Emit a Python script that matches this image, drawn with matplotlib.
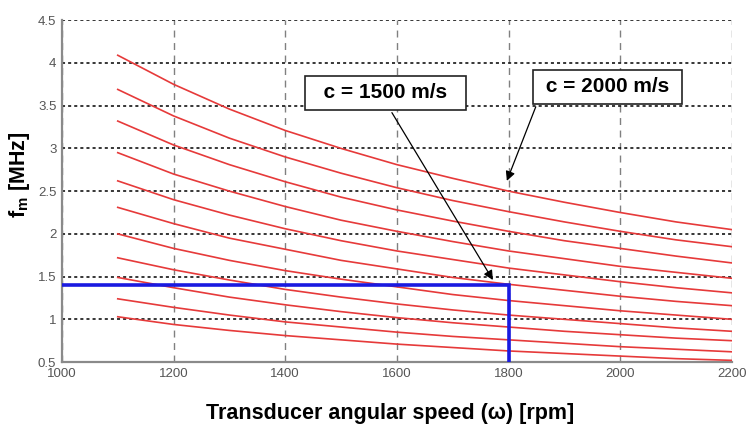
import matplotlib
matplotlib.use('Agg')
import matplotlib.pyplot as plt

plt.rcParams['mathtext.fontset'] = 'custom'
plt.rcParams['mathtext.bf'] = 'Liberation Sans:bold'
plt.rcParams['mathtext.rm'] = 'Liberation Sans'

# angular speed samples [rpm]
speed = [1100, 1200, 1300, 1400, 1500, 1600, 1700, 1800, 1900, 2000, 2100, 2200]

# fm [MHz] for each curve, top (c = 2000 m/s) to bottom
fm_1 = [4.09, 3.75, 3.46, 3.21, 3.00, 2.81, 2.65, 2.50, 2.37, 2.25, 2.14, 2.05]
fm_2 = [3.69, 3.38, 3.12, 2.90, 2.71, 2.54, 2.39, 2.26, 2.14, 2.03, 1.93, 1.85]
fm_3 = [3.32, 3.04, 2.81, 2.61, 2.43, 2.28, 2.15, 2.03, 1.92, 1.83, 1.74, 1.66]
fm_4 = [2.95, 2.70, 2.50, 2.32, 2.16, 2.03, 1.91, 1.80, 1.71, 1.62, 1.55, 1.48]
fm_5 = [2.62, 2.40, 2.22, 2.06, 1.92, 1.80, 1.70, 1.60, 1.52, 1.44, 1.37, 1.31]
fm_6 = [2.31, 2.12, 1.95, 1.82, 1.69, 1.59, 1.49, 1.41, 1.34, 1.27, 1.21, 1.16]
fm_7 = [2.00, 1.83, 1.69, 1.57, 1.47, 1.38, 1.29, 1.22, 1.16, 1.10, 1.05, 1.00]
fm_8 = [1.72, 1.58, 1.46, 1.35, 1.26, 1.18, 1.11, 1.05, 1.00, 0.95, 0.90, 0.86]
fm_9 = [1.49, 1.37, 1.26, 1.17, 1.09, 1.02, 0.96, 0.91, 0.86, 0.82, 0.78, 0.75]
fm_10 = [1.24, 1.14, 1.05, 0.97, 0.91, 0.85, 0.80, 0.76, 0.72, 0.68, 0.65, 0.62]
fm_11 = [1.03, 0.94, 0.87, 0.81, 0.76, 0.71, 0.67, 0.63, 0.60, 0.57, 0.54, 0.52]
curves = [fm_1, fm_2, fm_3, fm_4, fm_5, fm_6, fm_7, fm_8, fm_9, fm_10, fm_11]

# operating point
op_speed = 1800
op_fm = 1.4

xticks = [1000, 1200, 1400, 1600, 1800, 2000, 2200]
yticks = [0.5, 1, 1.5, 2, 2.5, 3, 3.5, 4, 4.5]
ytick_labels = ['0.5', '1', '1.5', '2', '2.5', '3', '3.5', '4', '4.5']

fig = plt.figure(figsize=(7.46, 4.30), dpi=100)
ax = fig.add_axes([0.083, 0.158, 0.898, 0.795])

for fm in curves:
    ax.plot(speed, fm, color='#e63a3a', lw=1.2, zorder=3)

# blue guide lines to the operating point
ax.plot([1000, op_speed, op_speed], [op_fm, op_fm, 0.5], color='#1a1ae0', lw=2.6,
        solid_joinstyle='miter', zorder=4)

ax.set_xlim(1000, 2200)
ax.set_ylim(0.5, 4.5)
ax.set_xticks(xticks)
ax.set_yticks(yticks)
ax.set_yticklabels(ytick_labels)

for lab in ax.get_xticklabels() + ax.get_yticklabels():
    lab.set_fontfamily('Liberation Sans')
    lab.set_fontsize(9.5)
    lab.set_color('#555555')
ax.tick_params(length=0, pad=4)

ax.yaxis.grid(True, linestyle=(0, (2, 2)), color='black', lw=1.1)
ax.xaxis.grid(True, linestyle=(0, (5, 4)), color='#808080', lw=1.0)
ax.set_axisbelow(True)

for side in ['top', 'right']:
    ax.spines[side].set_visible(False)
for side in ['left', 'bottom']:
    ax.spines[side].set_color('#8a8a8a')
    ax.spines[side].set_linewidth(1.6)

ax.set_xlabel('Transducer angular speed (\u03c9) [rpm]', fontsize=15.5, fontweight='bold',
              family=['Liberation Sans', 'DejaVu Sans'])
ax.xaxis.set_label_coords(0.49, -0.12)
ax.set_ylabel(r'f$_\mathbf{m}$ [MHz]', fontsize=15.5, fontweight='bold',
              family=['Liberation Sans', 'DejaVu Sans'])
ax.yaxis.set_label_coords(-0.045, 0.547)

box = dict(boxstyle='square,pad=0.35', fc='white', ec='#222222', lw=1.2)
arrow = dict(arrowstyle='-|>', color='black', lw=0.9, mutation_scale=14, shrinkB=0)

ax.annotate('  c = 1500 m/s  ', xy=(1772, 1.46), xytext=(1580, 3.65),
            ha='center', va='center', fontsize=15, fontweight='bold',
            family=['Liberation Sans', 'DejaVu Sans'], bbox=box,
            arrowprops=dict(arrow, relpos=(0.5, 0.0)), zorder=5)
ax.annotate(' c = 2000 m/s ', xy=(1797, 2.62), xytext=(1977, 3.72),
            ha='center', va='center', fontsize=15, fontweight='bold',
            family=['Liberation Sans', 'DejaVu Sans'], bbox=box,
            arrowprops=dict(arrow, relpos=(0.0, 0.0)), zorder=5)

fig.savefig('out.png', dpi=100)
